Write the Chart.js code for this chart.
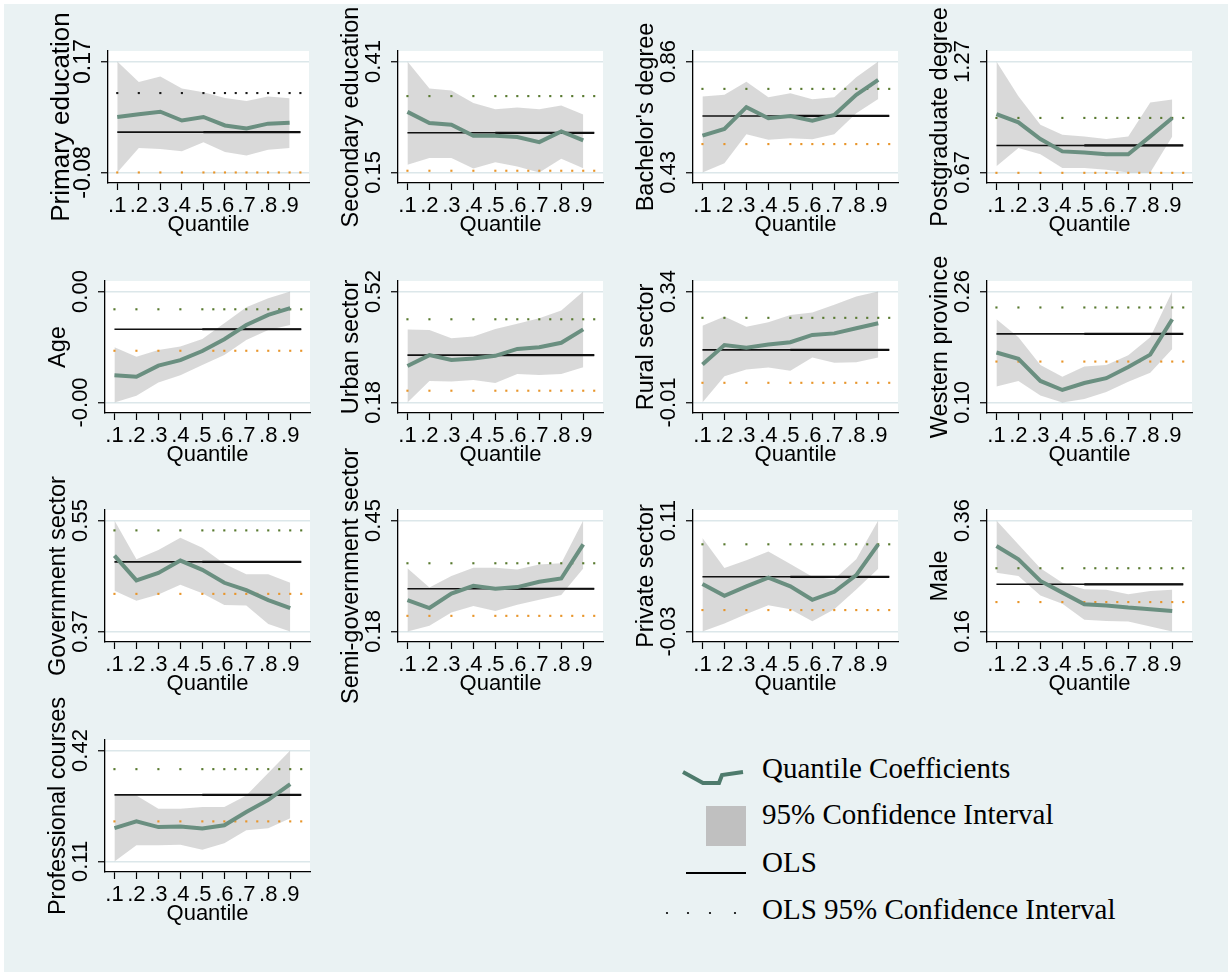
<!DOCTYPE html>
<html>
<head>
<meta charset="utf-8">
<script src="https://cdn.jsdelivr.net/npm/chart.js@4.4.1/dist/chart.umd.min.js"></script>
<style>
html, body { margin: 0; padding: 0; background: #fff; }
#page { position: absolute; left: 4px; top: 4px; width: 1224px; height: 968px; background: #eaf2f3; }
canvas { position: absolute; }
.key { position: absolute; left: 762px; font: 29px "Liberation Serif", "Times New Roman", serif; line-height: 29px; color: #000; white-space: nowrap; }
#keys { position: absolute; left: 650px; top: 750px; }
</style>
</head>
<body>
<div id="page"></div>

<svg id="keys" width="110" height="180">
  <polyline points="33,22 53,33 69,33 72,25 93,22" fill="none" stroke="#4e7b6c" stroke-width="4"/>
  <rect x="56" y="56" width="40" height="40" fill="#c0c0c0"/>
  <line x1="36" y1="123" x2="96" y2="123" stroke="#000" stroke-width="2"/>
  <circle cx="17" cy="163" r="1.1" fill="#000"/>
  <circle cx="38" cy="163" r="1.1" fill="#000"/>
  <circle cx="60" cy="163" r="1.1" fill="#000"/>
  <circle cx="85" cy="163" r="1.1" fill="#000"/>
</svg>
<div class="key" style="top:754px">Quantile Coefficients</div>
<div class="key" style="top:800px">95% Confidence Interval</div>
<div class="key" style="top:848px">OLS</div>
<div class="key" style="top:895px">OLS 95% Confidence Interval</div>

<script>
// quantile grid and the x positions used for the OLS lines
var quantiles = [0.1, 0.2, 0.3, 0.4, 0.5, 0.6, 0.7, 0.8, 0.9];
var olsX = [0.1, 0.2, 0.3, 0.4, 0.5, 0.55, 0.6, 0.65, 0.7, 0.75, 0.8, 0.85, 0.9, 0.95];
var olsHalfX = [0.5, 0.95];
var xTicks = [0.1, 0.2, 0.3, 0.4, 0.5, 0.6, 0.7, 0.8, 0.9];

// ols arrays: [estimate, upper 95%, lower 95%]
var primaryTicks = [-0.08, 0.17];
var primaryCoef  = [0.045, 0.051, 0.057, 0.037, 0.045, 0.026, 0.019, 0.030, 0.032];
var primaryUpper = [0.170, 0.124, 0.136, 0.109, 0.101, 0.088, 0.081, 0.091, 0.087];
var primaryLower = [-0.080, -0.025, -0.027, -0.032, -0.012, -0.034, -0.042, -0.029, -0.025];
var primaryOLS   = [0.011, 0.099, -0.080];

var secondaryTicks = [0.15, 0.41];
var secondaryCoef  = [0.292, 0.266, 0.262, 0.236, 0.236, 0.233, 0.221, 0.246, 0.225];
var secondaryUpper = [0.410, 0.347, 0.342, 0.313, 0.298, 0.302, 0.298, 0.307, 0.286];
var secondaryLower = [0.168, 0.184, 0.184, 0.159, 0.174, 0.164, 0.150, 0.182, 0.160];
var secondaryOLS   = [0.243, 0.329, 0.154];

var bachelorTicks = [0.43, 0.86];
var bachelorCoef  = [0.573, 0.599, 0.683, 0.640, 0.649, 0.631, 0.653, 0.731, 0.789];
var bachelorUpper = [0.724, 0.731, 0.782, 0.722, 0.737, 0.714, 0.722, 0.799, 0.860];
var bachelorLower = [0.430, 0.466, 0.578, 0.557, 0.563, 0.559, 0.578, 0.660, 0.715];
var bachelorOLS   = [0.649, 0.754, 0.540];

var postgradTicks = [0.67, 1.27];
var postgradCoef  = [0.986, 0.941, 0.851, 0.784, 0.778, 0.768, 0.768, 0.865, 0.965];
var postgradUpper = [1.270, 1.082, 0.928, 0.874, 0.865, 0.851, 0.865, 1.049, 1.064];
var postgradLower = [0.703, 0.802, 0.769, 0.694, 0.694, 0.685, 0.670, 0.670, 0.865];
var postgradOLS   = [0.816, 0.965, 0.668];

var ageTicks = [-0.0015, 0.0035];
var ageCoef  = [-0.00027, -0.00034, 0.00016, 0.00041, 0.00082, 0.00135, 0.00199, 0.00245, 0.00275];
var ageUpper = [0.00099, 0.00056, 0.00086, 0.00102, 0.00136, 0.00207, 0.00279, 0.00320, 0.00350];
var ageLower = [-0.00150, -0.00120, -0.00060, -0.00027, 0.00019, 0.00064, 0.00132, 0.00177, 0.00199];
var ageOLS   = [0.00180, 0.00270, 0.00083];

var urbanTicks = [0.18, 0.52];
var urbanCoef  = [0.292, 0.325, 0.310, 0.315, 0.323, 0.344, 0.349, 0.363, 0.404];
var urbanUpper = [0.404, 0.402, 0.377, 0.382, 0.405, 0.421, 0.438, 0.462, 0.520];
var urbanLower = [0.180, 0.246, 0.244, 0.249, 0.240, 0.267, 0.264, 0.267, 0.288];
var urbanOLS   = [0.325, 0.435, 0.216];

var ruralTicks = [-0.01, 0.34];
var ruralCoef  = [0.110, 0.171, 0.163, 0.173, 0.180, 0.203, 0.208, 0.224, 0.240];
var ruralUpper = [0.232, 0.261, 0.229, 0.243, 0.266, 0.274, 0.298, 0.324, 0.340];
var ruralLower = [-0.010, 0.073, 0.094, 0.100, 0.090, 0.132, 0.115, 0.117, 0.132];
var ruralOLS   = [0.156, 0.257, 0.052];

var westernTicks = [0.10, 0.26];
var westernCoef  = [0.172, 0.163, 0.131, 0.118, 0.128, 0.135, 0.151, 0.169, 0.220];
var westernUpper = [0.220, 0.194, 0.154, 0.137, 0.152, 0.154, 0.168, 0.194, 0.260];
var westernLower = [0.123, 0.131, 0.110, 0.100, 0.105, 0.115, 0.130, 0.143, 0.177];
var westernOLS   = [0.199, 0.237, 0.159];

var govTicks = [0.37, 0.55];
var govCoef  = [0.493, 0.453, 0.465, 0.485, 0.470, 0.449, 0.437, 0.421, 0.408];
var govUpper = [0.550, 0.487, 0.502, 0.522, 0.506, 0.480, 0.463, 0.463, 0.449];
var govLower = [0.436, 0.420, 0.430, 0.446, 0.432, 0.413, 0.412, 0.382, 0.370];
var govOLS   = [0.483, 0.534, 0.431];

var semiTicks = [0.18, 0.45];
var semiCoef  = [0.256, 0.237, 0.272, 0.291, 0.284, 0.288, 0.301, 0.309, 0.392];
var semiUpper = [0.334, 0.287, 0.315, 0.335, 0.335, 0.331, 0.343, 0.346, 0.450];
var semiLower = [0.180, 0.194, 0.226, 0.242, 0.230, 0.245, 0.257, 0.269, 0.333];
var semiOLS   = [0.284, 0.346, 0.218];

var privateTicks = [-0.03, 0.11];
var privateCoef  = [0.030, 0.015, 0.027, 0.038, 0.027, 0.010, 0.020, 0.041, 0.080];
var privateUpper = [0.088, 0.050, 0.060, 0.071, 0.055, 0.039, 0.036, 0.061, 0.110];
var privateLower = [-0.030, -0.020, -0.008, 0.003, -0.002, -0.017, -0.002, 0.023, 0.049];
var privateOLS   = [0.039, 0.080, -0.003];

var maleTicks = [0.16, 0.36];
var maleCoef  = [0.314, 0.290, 0.251, 0.230, 0.209, 0.207, 0.203, 0.200, 0.197];
var maleUpper = [0.360, 0.317, 0.274, 0.248, 0.236, 0.235, 0.227, 0.233, 0.235];
var maleLower = [0.266, 0.260, 0.225, 0.210, 0.181, 0.179, 0.178, 0.169, 0.160];
var maleOLS   = [0.245, 0.274, 0.213];

var profTicks = [0.11, 0.42];
var profCoef  = [0.203, 0.222, 0.206, 0.208, 0.202, 0.211, 0.248, 0.282, 0.326];
var profUpper = [0.294, 0.294, 0.257, 0.257, 0.262, 0.262, 0.294, 0.357, 0.420];
var profLower = [0.110, 0.155, 0.155, 0.157, 0.143, 0.161, 0.197, 0.203, 0.231];
var profOLS   = [0.296, 0.368, 0.222];

var panels = [
    {title: "Primary education", ticks: primaryTicks, coef: primaryCoef, upper: primaryUpper, lower: primaryLower, ols: primaryOLS},
    {title: "Secondary education", ticks: secondaryTicks, coef: secondaryCoef, upper: secondaryUpper, lower: secondaryLower, ols: secondaryOLS},
    {title: "Bachelor's degree", ticks: bachelorTicks, coef: bachelorCoef, upper: bachelorUpper, lower: bachelorLower, ols: bachelorOLS},
    {title: "Postgraduate degree", ticks: postgradTicks, coef: postgradCoef, upper: postgradUpper, lower: postgradLower, ols: postgradOLS},
    {title: "Age", ticks: ageTicks, coef: ageCoef, upper: ageUpper, lower: ageLower, ols: ageOLS},
    {title: "Urban sector", ticks: urbanTicks, coef: urbanCoef, upper: urbanUpper, lower: urbanLower, ols: urbanOLS},
    {title: "Rural sector", ticks: ruralTicks, coef: ruralCoef, upper: ruralUpper, lower: ruralLower, ols: ruralOLS},
    {title: "Western province", ticks: westernTicks, coef: westernCoef, upper: westernUpper, lower: westernLower, ols: westernOLS},
    {title: "Government sector", ticks: govTicks, coef: govCoef, upper: govUpper, lower: govLower, ols: govOLS},
    {title: "Semi-government sector", ticks: semiTicks, coef: semiCoef, upper: semiUpper, lower: semiLower, ols: semiOLS},
    {title: "Private sector", ticks: privateTicks, coef: privateCoef, upper: privateUpper, lower: privateLower, ols: privateOLS},
    {title: "Male", ticks: maleTicks, coef: maleCoef, upper: maleUpper, lower: maleLower, ols: maleOLS},
    {title: "Professional courses", ticks: profTicks, coef: profCoef, upper: profUpper, lower: profLower, ols: profOLS}
];

var SANS = '"Liberation Sans", Arial, Helvetica, sans-serif';
var rowTop = [51, 281, 510, 740];
var colLeft = [105, 398, 693, 987];
var padL = 75, padT = 75, padR = 12, padB = 62;

// white plot region + rotated y labels (Stata style)
var stataText = {
    id: 'stataText',
    beforeDraw: function (chart) {
        var a = chart.chartArea, ctx = chart.ctx;
        ctx.save();
        ctx.fillStyle = '#fff';
        ctx.fillRect(a.left, a.top, a.right - a.left, a.bottom - a.top);
        ctx.restore();
    },
    afterDraw: function (chart, args, opts) {
        var a = chart.chartArea, ctx = chart.ctx, ys = chart.scales.y;
        ctx.save();
        ctx.fillStyle = '#000';
        ctx.textAlign = 'center';
        ctx.textBaseline = 'middle';
        ctx.font = opts.tickSize + 'px ' + SANS;
        ys.ticks.forEach(function (t) {
            ctx.save();
            ctx.translate(a.left - 24, ys.getPixelForValue(t.value));
            ctx.rotate(-Math.PI / 2);
            ctx.fillText(t.value.toFixed(2), 0, 0);
            ctx.restore();
        });
        ctx.font = opts.titleSize + 'px ' + SANS;
        ctx.translate(a.left - opts.titleGap, (a.top + a.bottom) / 2);
        ctx.rotate(-Math.PI / 2);
        ctx.fillText(opts.title, 0, 0);
        ctx.restore();
    }
};

function pts(ys) {
    return quantiles.map(function (q, k) { return {x: q, y: ys[k]}; });
}
function flat(xs, v) {
    return xs.map(function (q) { return {x: q, y: v}; });
}

panels.forEach(function (p, i) {
    var r = Math.floor(i / 4), c = i % 4;
    var L = i === 0 ? 108 : colLeft[c];
    var W = i === 0 ? 201 : 205;
    var H = 132;
    var cv = document.createElement('canvas');
    cv.width = padL + W + padR;
    cv.height = padT + H + padB;
    cv.style.left = (L - padL) + 'px';
    cv.style.top = (rowTop[r] - padT) + 'px';
    document.body.appendChild(cv);

    var lo = p.ticks[0], hi = p.ticks[1], span = hi - lo;
    var topDots = i === 0 ? '#1a1a1a' : '#58792f';

    new Chart(cv, {
        type: 'line',
        data: {
            datasets: [
                {data: pts(p.coef), borderColor: '#6a8f80', borderWidth: 4, pointRadius: 0, fill: false},
                {data: flat(olsX, p.ols[0]), borderColor: '#111', borderWidth: 1.6, pointRadius: 0, fill: false},
                {data: flat(olsHalfX, p.ols[0]), borderColor: '#111', borderWidth: 2.2, pointRadius: 0, fill: false},
                {data: flat(olsX, p.ols[1]), showLine: false, pointStyle: 'rect', pointRadius: 1.5,
                 pointBackgroundColor: topDots, pointBorderWidth: 0, fill: false},
                {data: flat(olsX, p.ols[2]), showLine: false, pointStyle: 'rect', pointRadius: 1.5,
                 pointBackgroundColor: '#e8952a', pointBorderWidth: 0, fill: false},
                {data: pts(p.upper), borderColor: 'rgba(0,0,0,0)', borderWidth: 0, pointRadius: 0,
                 fill: '+1', backgroundColor: 'rgba(150,150,150,0.36)'},
                {data: pts(p.lower), borderColor: 'rgba(0,0,0,0)', borderWidth: 0, pointRadius: 0, fill: false}
            ]
        },
        options: {
            responsive: false,
            animation: false,
            devicePixelRatio: 1,
            layout: {padding: {left: 0, top: padT, right: padR, bottom: 0}},
            elements: {line: {tension: 0}},
            plugins: {
                legend: {display: false},
                tooltip: {enabled: false},
                stataText: {
                    title: p.title,
                    titleSize: i === 0 ? 26 : 23.5,
                    tickSize: i === 0 ? 23 : 22,
                    titleGap: 46
                }
            },
            scales: {
                x: {
                    type: 'linear', min: 0.057, max: 0.99,
                    afterFit: function (s) { s.height = padB; },
                    afterBuildTicks: function (s) { s.ticks = xTicks.map(function (v) { return {value: v}; }); },
                    grid: {drawOnChartArea: false, drawTicks: true, tickLength: 7, tickColor: '#000', tickWidth: 1.2},
                    border: {display: true, color: '#000', width: 1.3},
                    ticks: {
                        autoSkip: false, maxRotation: 0, minRotation: 0, padding: 3, color: '#000',
                        font: {family: SANS, size: 22},
                        callback: function (v) { return Number(v).toFixed(1).replace(/^0/, ''); }
                    },
                    title: {display: true, text: 'Quantile', color: '#000', font: {family: SANS, size: 22},
                            padding: {top: 0, bottom: 7}}
                },
                y: {
                    min: lo - 0.095 * span, max: hi + 0.095 * span,
                    afterFit: function (s) { s.width = padL; },
                    afterBuildTicks: function (s) { s.ticks = p.ticks.map(function (v) { return {value: v}; }); },
                    grid: {color: '#dce7ea', lineWidth: 1.5, tickColor: '#000', tickLength: 7, tickWidth: 1.2},
                    border: {display: true, color: '#000', width: 1.3},
                    ticks: {display: false}
                }
            }
        },
        plugins: [stataText]
    });
});
</script>
</body>
</html>
